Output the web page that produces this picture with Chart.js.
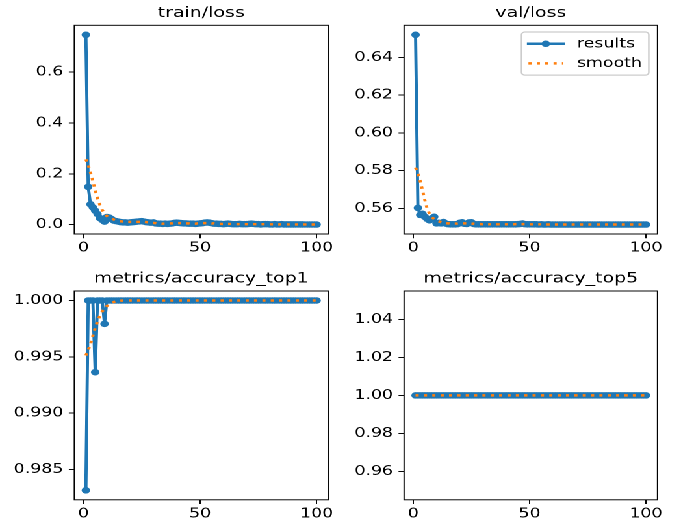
<!DOCTYPE html>
<html><head><meta charset="utf-8">
<script src="https://cdn.jsdelivr.net/npm/chart.js@4.4.1/dist/chart.umd.min.js"></script>
<style>
html,body{margin:0;padding:0;background:#fff;width:681px;height:524px;overflow:hidden}
#fig{position:absolute;left:0;top:0;width:524px;height:524px;transform-origin:0 0;transform:scale(1.29962,1)}
.pane{position:absolute;left:0;top:0;width:524px;height:524px}
</style></head><body>
<div id="fig">
<div class="pane"><canvas id="c0"></canvas></div>
<div class="pane"><canvas id="c1"></canvas></div>
<div class="pane"><canvas id="c2"></canvas></div>
<div class="pane"><canvas id="c3"></canvas></div>
</div>
<script>
// ---------------- data ----------------
const epochs = [1,2,3,4,5,6,7,8,9,10,11,12,13,14,15,16,17,18,19,20,21,22,23,24,25,26,27,28,29,30,31,32,33,34,35,36,37,38,39,40,41,42,43,44,45,46,47,48,49,50,51,52,53,54,55,56,57,58,59,60,61,62,63,64,65,66,67,68,69,70,71,72,73,74,75,76,77,78,79,80,81,82,83,84,85,86,87,88,89,90,91,92,93,94,95,96,97,98,99,100];

const trainLoss = [0.747,0.149,0.080,0.068,0.055,0.042,0.026,0.019,0.012,0.030,
0.028,0.022,0.016,0.014,0.012,0.010,0.009,0.009,0.008,0.009,
0.010,0.011,0.012,0.013,0.014,0.012,0.010,0.009,0.008,0.009,
0.005,0.004,0.004,0.003,0.004,0.003,0.004,0.005,0.007,0.008,
0.007,0.006,0.005,0.005,0.004,0.004,0.004,0.003,0.004,0.005,
0.006,0.008,0.009,0.008,0.006,0.004,0.004,0.003,0.003,0.002,
0.003,0.004,0.003,0.002,0.002,0.002,0.003,0.002,0.002,0.002,
0.003,0.004,0.003,0.002,0.002,0.001,0.002,0.002,0.002,0.001,
0.001,0.002,0.001,0.001,0.002,0.001,0.001,0.001,0.001,0.001,
0.001,0.001,0.001,0.001,0.0008,0.0008,0.0008,0.0007,0.0007,0.0006];

const trainSmooth = [0.257,0.235,0.205,0.172,0.136,0.104,0.078,0.058,0.044,0.034,
0.028,0.024,0.020,0.017,0.015,0.013,0.012,0.011,0.011,0.011,
0.011,0.011,0.011,0.011,0.011,0.011,0.010,0.009,0.008,0.007,
0.006,0.005,0.005,0.004,0.004,0.004,0.005,0.005,0.006,0.006,
0.006,0.006,0.005,0.005,0.005,0.004,0.004,0.004,0.005,0.005,
0.006,0.006,0.006,0.006,0.005,0.005,0.004,0.004,0.003,0.003,
0.003,0.003,0.003,0.003,0.002,0.002,0.002,0.002,0.002,0.002,
0.002,0.002,0.002,0.002,0.002,0.002,0.002,0.002,0.0015,0.0015,
0.0014,0.0013,0.0013,0.0012,0.0012,0.0011,0.0011,0.001,0.001,0.001,
0.001,0.0009,0.0009,0.0008,0.0008,0.0008,0.0007,0.0007,0.0007,0.0007];

const valLoss = [0.6520,0.5603,0.5566,0.5572,0.5556,0.5545,0.5537,0.5548,0.5556,0.5521,
0.5524,0.5521,0.5528,0.5520,0.5517,0.5516,0.5516,0.5516,0.5517,0.5524,
0.5527,0.5519,0.5518,0.5526,0.5527,0.5518,0.5516,0.5516,0.5516,0.5516,
0.5516,0.5516,0.5516,0.5516,0.5516,0.5516,0.5516,0.5516,0.5516,0.5516,
0.5516,0.5516,0.5516,0.5516,0.5517,0.5518,0.5520,0.5517,0.5516,0.5516,
0.5516,0.5516,0.5516,0.5515,0.5516,0.5515,0.5515,0.5516,0.5515,0.5515,
0.5515,0.5515,0.5515,0.5515,0.5515,0.5515,0.5515,0.5515,0.5515,0.5515,
0.5515,0.5515,0.5515,0.5515,0.5515,0.5515,0.5515,0.5515,0.5515,0.5515,
0.5515,0.5515,0.5515,0.5515,0.5515,0.5515,0.5515,0.5515,0.5515,0.5515,
0.5515,0.5515,0.5515,0.5515,0.5515,0.5515,0.5515,0.5515,0.5515,0.5515];

const valSmooth = [0.5816,0.5785,0.5745,0.5695,0.5643,0.5599,0.5572,0.5553,0.5544,0.5537,
0.5532,0.5527,0.5524,0.5522,0.5521,0.5520,0.5520,0.5520,0.5520,0.5521,
0.5521,0.5521,0.5521,0.5521,0.5520,0.5519,0.5518,0.5517,0.5517,0.5516,
0.5516,0.5516,0.5516,0.5516,0.5516,0.5516,0.5516,0.5516,0.5516,0.5516,
0.5516,0.5516,0.5516,0.5517,0.5517,0.5517,0.5517,0.5517,0.5517,0.5516,
0.5516,0.5516,0.5516,0.5516,0.5516,0.5516,0.5515,0.5515,0.5515,0.5515,
0.5515,0.5515,0.5515,0.5515,0.5515,0.5515,0.5515,0.5515,0.5515,0.5515,
0.5515,0.5515,0.5515,0.5515,0.5515,0.5515,0.5515,0.5515,0.5515,0.5515,
0.5515,0.5515,0.5515,0.5515,0.5515,0.5515,0.5515,0.5515,0.5515,0.5515,
0.5515,0.5515,0.5515,0.5515,0.5515,0.5515,0.5515,0.5515,0.5515,0.5515];

const top1 = [0.98316,1,1,1,0.99364,1,1,1,0.99793,1,
1,1,1,1,1,1,1,1,1,1, 1,1,1,1,1,1,1,1,1,1, 1,1,1,1,1,1,1,1,1,1,
1,1,1,1,1,1,1,1,1,1, 1,1,1,1,1,1,1,1,1,1, 1,1,1,1,1,1,1,1,1,1,
1,1,1,1,1,1,1,1,1,1, 1,1,1,1,1,1,1,1,1,1, 1,1,1,1,1,1,1,1,1,1];

const top1Smooth = [0.99512,0.99558,0.99615,0.99686,0.99755,0.99816,0.99864,0.99902,0.99928,0.9995,
0.99966,0.99977,0.99987,0.99993,0.99996,0.99998,1,1,1,1, 1,1,1,1,1,1,1,1,1,1, 1,1,1,1,1,1,1,1,1,1,
1,1,1,1,1,1,1,1,1,1, 1,1,1,1,1,1,1,1,1,1, 1,1,1,1,1,1,1,1,1,1,
1,1,1,1,1,1,1,1,1,1, 1,1,1,1,1,1,1,1,1,1, 1,1,1,1,1,1,1,1,1,1];

const top5 = [1,1,1,1,1,1,1,1,1,1, 1,1,1,1,1,1,1,1,1,1, 1,1,1,1,1,1,1,1,1,1, 1,1,1,1,1,1,1,1,1,1,
1,1,1,1,1,1,1,1,1,1, 1,1,1,1,1,1,1,1,1,1, 1,1,1,1,1,1,1,1,1,1,
1,1,1,1,1,1,1,1,1,1, 1,1,1,1,1,1,1,1,1,1, 1,1,1,1,1,1,1,1,1,1];
const top5Smooth = [1,1,1,1,1,1,1,1,1,1, 1,1,1,1,1,1,1,1,1,1, 1,1,1,1,1,1,1,1,1,1, 1,1,1,1,1,1,1,1,1,1,
1,1,1,1,1,1,1,1,1,1, 1,1,1,1,1,1,1,1,1,1, 1,1,1,1,1,1,1,1,1,1,
1,1,1,1,1,1,1,1,1,1, 1,1,1,1,1,1,1,1,1,1, 1,1,1,1,1,1,1,1,1,1];

const titles = ['train/loss','val/loss','metrics/accuracy_top1','metrics/accuracy_top5'];
const xTicks = [0,50,100];
const yTicksTrain = [0.0,0.2,0.4,0.6];
const yTicksVal = [0.56,0.58,0.60,0.62,0.64];
const yTicksTop1 = [0.985,0.990,0.995,1.000];
const yTicksTop5 = [0.96,0.98,1.00,1.02,1.04];
const legendLabels = ['results','smooth'];

// ---------------- style (virtual 524x524 space, stretched horizontally) ----------------
const PT = 524/1200*200/72;           // px per point
const FONT = "'DejaVu Sans', sans-serif";
const FS = 11*PT, TFS = 12*PT;
const LW = 2*PT, MR = 2.7*PT;
const TL = 3.5*PT, SW = 0.8*PT;
const BLUE = '#1f77b4', ORANGE = '#ff7f0e';
const W = 524, H = 524;
const XMIN = -3.95, XMAX = 104.95;

const panels = [
  {id:'c0', title:titles[0], res:trainLoss, sm:trainSmooth, L:57.2, R:252.5, T:25.3, B:234.0, ymin:-0.0367, ymax:0.7843, yt:yTicksTrain, dec:1},
  {id:'c1', title:titles[1], res:valLoss, sm:valSmooth, L:310.9, R:505.9, T:25.3, B:234.0, ymin:0.54648, ymax:0.65702, yt:yTicksVal, dec:2, legend:true},
  {id:'c2', title:titles[2], res:top1, sm:top1Smooth, L:57.2, R:252.5, T:291.0, B:499.8, ymin:0.982318, ymax:1.000842, yt:yTicksTop1, dec:3},
  {id:'c3', title:titles[3], res:top5, sm:top5Smooth, L:310.9, R:505.9, T:291.0, B:499.8, ymin:0.945, ymax:1.055, yt:yTicksTop5, dec:2}
];

const framePlugin = {
  id:'frame',
  afterDatasetsDraw(chart){
    const a = chart.chartArea, c = chart.ctx;
    c.save(); c.strokeStyle = '#000'; c.lineWidth = SW;
    c.strokeRect(a.left, a.top, a.right-a.left, a.bottom-a.top);
    c.restore();
  }
};

const legendPlugin = {
  id:'mplLegend',
  afterDraw(chart, args, opts){
    if(!opts || !opts.show) return;
    const a = chart.chartArea, c = chart.ctx;
    const em = FS;
    const pad = 0.4*em, hl = 2.0*em, htp = 0.8*em, ls = 0.5*em, bap = 0.5*em;
    c.save();
    c.font = FS + 'px ' + FONT;
    const tw = Math.max(...legendLabels.map(t=>c.measureText(t).width));
    const rowH = 0.968*em;
    const bw = pad*2 + hl + htp + tw;
    const bh = pad*2 + rowH*2 + ls;
    const bx = a.right - bap - bw, by = a.top + bap;
    const r = 0.2*em;
    c.beginPath();
    c.moveTo(bx+r,by); c.lineTo(bx+bw-r,by); c.arcTo(bx+bw,by,bx+bw,by+r,r);
    c.lineTo(bx+bw,by+bh-r); c.arcTo(bx+bw,by+bh,bx+bw-r,by+bh,r);
    c.lineTo(bx+r,by+bh); c.arcTo(bx,by+bh,bx,by+bh-r,r);
    c.lineTo(bx,by+r); c.arcTo(bx,by,bx+r,by,r); c.closePath();
    c.fillStyle = 'rgba(255,255,255,0.8)'; c.fill();
    c.strokeStyle = '#cccccc'; c.lineWidth = 1*PT; c.stroke();
    for(let i=0;i<2;i++){
      const cy = by + pad + rowH/2 + i*(rowH+ls);
      const hx0 = bx + pad, hx1 = hx0 + hl;
      c.beginPath(); c.moveTo(hx0,cy); c.lineTo(hx1,cy);
      c.lineWidth = LW;
      if(i===0){
        c.strokeStyle = BLUE; c.lineCap = 'square'; c.setLineDash([]); c.stroke();
        c.beginPath(); c.arc((hx0+hx1)/2, cy, MR, 0, Math.PI*2); c.fillStyle = BLUE; c.fill();
      } else {
        c.strokeStyle = ORANGE; c.lineCap = 'butt'; c.setLineDash([LW, 1.65*LW]); c.stroke();
        c.setLineDash([]);
      }
      c.fillStyle = '#000'; c.textAlign = 'left'; c.textBaseline = 'alphabetic';
      c.fillText(legendLabels[i], hx1 + htp, cy + rowH/2 - 0.208*em);
    }
    c.restore();
  }
};

const XH = 30, YW = 50, TH = 25.3;
const tickFont = {family: FONT, size: FS, lineHeight: 1.2};

panels.forEach(p => {
  const titleLH = 1.2*TFS;
  const tPadTop = TH - (7.28 + 0.346*TFS) - titleLH/2;
  const tPadBot = TH - titleLH - tPadTop;
  new Chart(document.getElementById(p.id), {
    type:'line',
    data:{datasets:[
      {label:legendLabels[1], data: epochs.map((e,i)=>({x:e, y:p.sm[i]})), borderColor:ORANGE, borderWidth:LW,
       borderDash:[LW, 1.65*LW], borderCapStyle:'butt', pointRadius:0, pointHoverRadius:0, fill:false, tension:0},
      {label:legendLabels[0], data: epochs.map((e,i)=>({x:e, y:p.res[i]})), borderColor:BLUE, backgroundColor:BLUE,
       borderWidth:LW, borderJoinStyle:'round', borderCapStyle:'square', pointRadius:MR, pointHoverRadius:MR,
       pointBackgroundColor:BLUE, pointBorderWidth:0, fill:false, tension:0}
    ]},
    options:{
      responsive:true, maintainAspectRatio:false, animation:false, devicePixelRatio:2, events:[],
      layout:{autoPadding:false, padding:{left:p.L-YW, right:W-p.R, top:p.T-TH, bottom:H-p.B-XH}},
      plugins:{
        legend:{display:false}, tooltip:{enabled:false},
        title:{display:true, text:p.title, fullSize:false, color:'#000',
               font:{family:FONT, size:TFS, weight:'normal', lineHeight:1.2},
               padding:{top:tPadTop, bottom:tPadBot}},
        mplLegend:{show:!!p.legend}
      },
      scales:{
        x:{type:'linear', min:XMIN, max:XMAX,
           afterBuildTicks:s=>{ s.ticks = xTicks.map(v=>({value:v})); },
           afterFit:s=>{ s.height = XH; },
           grid:{display:true, drawOnChartArea:false, drawTicks:true, tickLength:TL, tickWidth:SW, tickColor:'#000'},
           border:{display:false},
           ticks:{font:tickFont, color:'#000', padding:1.8, maxRotation:0, minRotation:0, autoSkip:false,
                  callback:v=>String(v)}},
        y:{type:'linear', min:p.ymin, max:p.ymax,
           afterBuildTicks:s=>{ s.ticks = p.yt.map(v=>({value:v})); },
           afterFit:s=>{ s.width = YW; },
           grid:{display:true, drawOnChartArea:false, drawTicks:true, tickLength:TL, tickWidth:SW, tickColor:'#000'},
           border:{display:false},
           ticks:{font:tickFont, color:'#000', padding:TL, autoSkip:false,
                  callback:v=>Number(v).toFixed(p.dec)}}
      }
    },
    plugins:[framePlugin, legendPlugin]
  });
});
</script>
</body></html>
